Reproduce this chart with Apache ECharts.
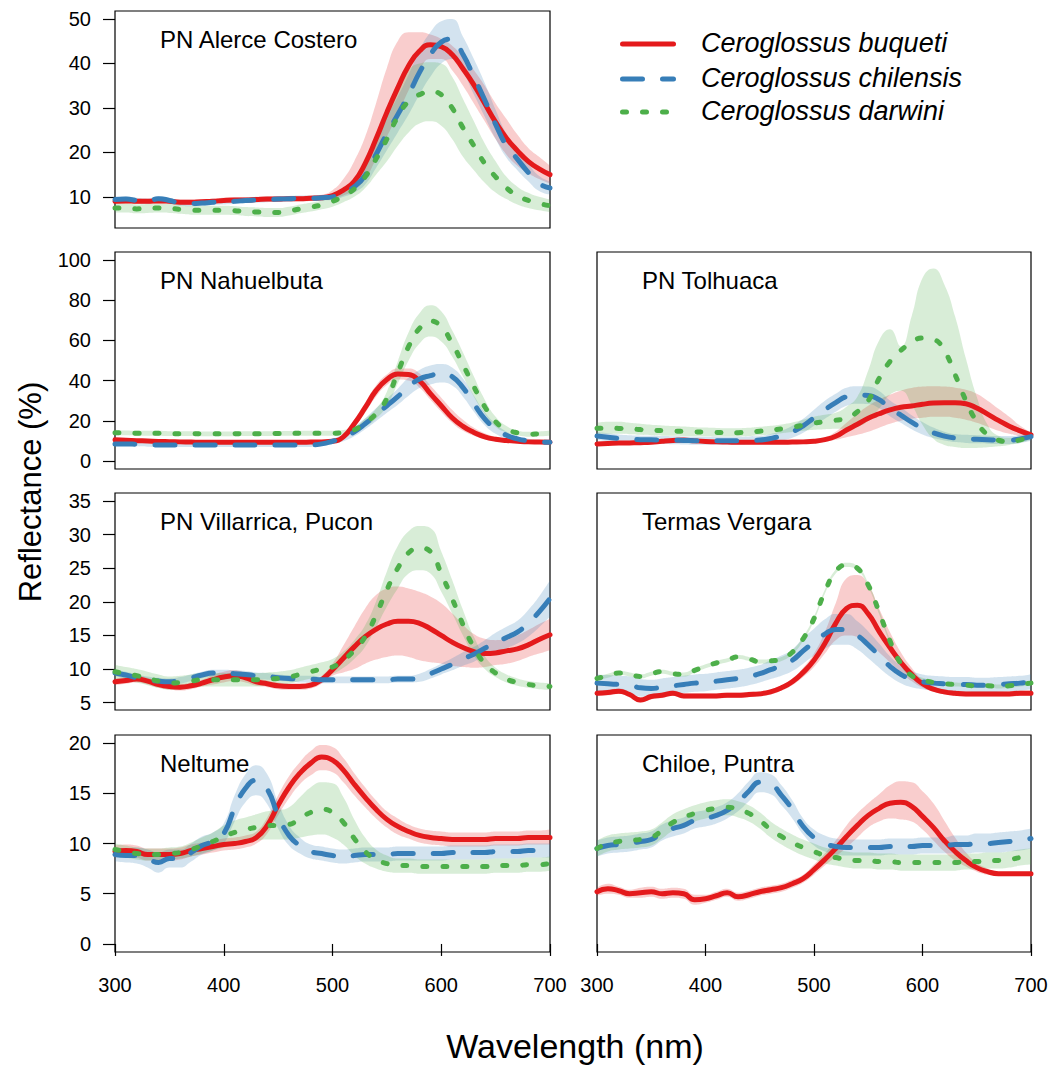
<!DOCTYPE html>
<html>
<head>
<meta charset="utf-8">
<title>Reflectance spectra of Ceroglossus</title>
<script src="https://cdn.jsdelivr.net/npm/echarts@6/dist/echarts.min.js"></script>
<style>
  html, body { margin: 0; padding: 0; background: #ffffff; }
  #chart { width: 1054px; height: 1068px; }
</style>
</head>
<body>
<div id="chart"></div>
<script>
// ---- wavelength grid (nm) ----
const wavelengths = [300,310,320,330,340,350,360,370,380,390,400,410,420,430,440,450,460,470,480,490,500,510,520,530,540,550,560,570,580,590,600,610,620,630,640,650,660,670,680,690,700];

// ---- tick labels ----
const ticksAlerce = [10,20,30,40,50];
const ticksRow2 = [0,20,40,60,80,100];
const ticksRow3 = [5,10,15,20,25,30,35];
const ticksRow4 = [0,5,10,15,20];

const speciesNames = ['Ceroglossus buqueti','Ceroglossus chilensis','Ceroglossus darwini'];
const siteNames = ['PN Alerce Costero','PN Nahuelbuta','PN Tolhuaca','PN Villarrica, Pucon','Termas Vergara','Neltume','Chiloe, Puntra'];

// ---- PN Alerce Costero ----
const acBuqMean = [9.0,9.1,9.0,9.0,9.1,9.0,8.8,8.8,8.9,9.0, 9.2,9.3,9.3,9.4,9.5,9.5,9.6,9.6,9.7,9.8, 10.3,11.5,13.5,17.5,23,29,34.5,39.5,42.8,44.2, 43.8,42,38.8,35.2,31,26.8,23.2,20.4,18,16.3, 15.0];
const acBuqLo = [8.4,8.5,8.4,8.4,8.5,8.4,8.2,8.2,8.3,8.4, 8.6,8.7,8.7,8.8,8.9,8.9,9.0,9.0,9.1,9.2, 9.5,10.3,11.5,14,18.5,23.5,28.5,34,38.5,41, 41,38.5,35,31,27,23,19.5,17,15.3,14, 13];
const acBuqHi = [9.6,9.7,9.6,9.6,9.7,9.6,9.4,9.4,9.5,9.6, 9.8,9.9,9.9,10,10.1,10.1,10.2,10.2,10.3,10.5, 11.5,14,18,23.5,31,39,45,47,47,46.5, 45.5,44,41.5,38.5,35,31,27.5,24,21,19, 17];
const acChiMean = [9.4,9.5,9.2,9.0,9.6,9.2,8.6,8.5,8.6,8.8, 8.9,9.0,9.2,9.3,9.4,9.5,9.6,9.7,9.7,9.8, 10.0,11.0,12.3,14.8,19.5,24.2,28.5,33,38,42, 44.8,45.5,42,37,31.8,26.3,21.5,18.5,15.5,13, 12.0];
const acChiLo = [8.8,8.9,8.6,8.4,9.0,8.6,8.0,7.9,8.0,8.2, 8.3,8.4,8.6,8.7,8.8,8.9,9.0,9.1,9.1,9.2, 9.3,10.0,11,12.8,16.5,20.5,24.5,28.5,33,37, 40,41,38,33,28,23,18.8,16,13.5,11.3, 10.5];
const acChiHi = [10,10.1,9.8,9.6,10.2,9.8,9.2,9.1,9.2,9.4, 9.5,9.6,9.8,9.9,10,10.1,10.2,10.3,10.3,10.4, 10.7,12,13.6,16.8,22.5,28,32.5,37.5,43,47, 49.5,50,46,41,35.6,29.6,24.2,21,17.5,14.7, 13.5];
const acDarMean = [7.5,7.5,7.3,7.4,7.5,7.4,7.2,7.0,7.0,7.0, 7.0,6.9,6.7,6.6,6.5,6.5,6.8,7.3,7.7,8.2, 9.0,10.2,11.8,14.5,18.5,23,28,31.5,33,33.7, 33,30,25.5,21.5,17.5,14.5,12,10.3,9.2,8.5, 8.0];
const acDarLo = [6.5,6.5,6.3,6.4,6.5,6.4,6.2,6.0,6.0,6.0, 6.0,5.9,5.7,5.6,5.5,5.5,5.8,6.3,6.7,7.2, 7.8,8.8,10,12,15,18,21.5,24.5,26.5,27, 26,23,19,16,13.2,11,9.5,8.3,7.5,7, 6.6];
const acDarHi = [8.5,8.5,8.3,8.4,8.5,8.4,8.2,8.0,8.0,8.0, 8.0,7.9,7.7,7.6,7.5,7.5,7.8,8.3,8.7,9.2, 10.2,11.6,13.6,17,22,28,34,38.5,40,40.3, 40,37,32,27,22,18,14.5,12.3,10.9,10, 9.4];

// ---- PN Nahuelbuta ----
const nbBuqMean = [10.5,10.3,10.1,9.9,9.7,9.6,9.5,9.4,9.3,9.3, 9.3,9.3,9.3,9.3,9.3,9.3,9.3,9.3,9.4,9.5, 9.8,12,18.5,26.5,35,40.5,43.3,43,39.8,33.5, 27.5,21.5,17.2,14.2,12,10.8,10.2,9.8,9.5,9.4, 9.3];
const nbBuqLo = [9.7,9.5,9.3,9.1,8.9,8.8,8.7,8.6,8.5,8.5, 8.5,8.5,8.5,8.5,8.5,8.5,8.5,8.5,8.6,8.7, 9.0,10.8,16.5,24,32,37.8,40.5,40,36.5,30.5, 24.5,19,15,12.5,10.8,9.8,9.2,8.9,8.6,8.5, 8.4];
const nbBuqHi = [11.3,11.1,10.9,10.7,10.5,10.4,10.3,10.2,10.1,10.1, 10.1,10.1,10.1,10.1,10.1,10.1,10.1,10.1,10.2,10.3, 10.6,13.2,20.5,29,37.5,43,46,46,43.5,37.5, 31.5,25.5,20.5,16.5,13.8,12,11,10.5,10.2,10.1, 10];
const nbChiMean = [8.5,8.5,8.3,8.1,8.0,8.0,8.0,8.0,8.0,8.0, 8.0,8.0,8.0,8.0,8.0,8.0,8.0,8.0,8.0,8.5, 9.8,11.5,14.5,18.5,23,27.5,32,37,40.8,42.5, 43.6,42,36.5,28.5,21,16,12.8,11,10,9.5, 9.3];
const nbChiLo = [7.5,7.5,7.3,7.1,7.0,7.0,7.0,7.0,7.0,7.0, 7.0,7.0,7.0,7.0,7.0,7.0,7.0,7.0,7.0,7.4, 8.5,9.8,12.3,15.8,19.8,24,28,32.5,36.3,38, 39,37.5,32,24.5,17.8,13.5,11,9.7,8.9,8.5, 8.3];
const nbChiHi = [9.5,9.5,9.3,9.1,9.0,9.0,9.0,9.0,9.0,9.0, 9.0,9.0,9.0,9.0,9.0,9.0,9.0,9.0,9.0,9.6, 11.1,13.2,16.7,21.2,26.2,31,36,41.5,45.3,47.5, 48.3,46.5,41,32.5,24.2,18.5,14.6,12.3,11.1,10.5, 10.3];
const nbDarMean = [14.0,14.0,13.8,13.8,13.8,13.6,13.6,13.6,13.5,13.5, 13.5,13.5,13.6,13.6,13.6,13.7,13.7,13.8,13.8,13.8, 13.8,14.2,15.5,19,23.5,31,44,57,66,69.6, 66.8,58.5,48,37,27,19.5,15.8,14,13.3,13.5, 13.8];
const nbDarLo = [12.8,12.8,12.6,12.6,12.6,12.4,12.4,12.4,12.3,12.3, 12.3,12.3,12.4,12.4,12.4,12.5,12.5,12.6,12.6,12.6, 12.6,13,14,17,21,27.5,38.5,50,58.5,62, 59.5,52,42,32,23.5,17,14.2,12.8,12.1,12.3, 12.6];
const nbDarHi = [15.2,15.2,15,15,15,14.8,14.8,14.8,14.7,14.7, 14.7,14.7,14.8,14.8,14.8,14.9,14.9,15,15,15, 15,15.4,17,21,26,34.5,49.5,64,73.5,77.5, 74.5,65,54,42,30.5,22,17.4,15.2,14.5,14.7, 15];

// ---- PN Tolhuaca ----
const thBuqMean = [8.5,8.7,8.9,9.0,9.1,9.3,9.8,10.2,10.4,10.0, 9.7,9.5,9.4,9.3,9.3,9.3,9.3,9.3,9.4,9.5, 9.8,10.6,12.3,15.4,18.3,21.3,23.5,25.4,26.7,27.4, 28.2,28.8,29,29,28.5,26.3,23.3,20.2,17.3,15, 13];
const thBuqLo = [7.8,8.0,8.2,8.3,8.4,8.6,9.1,9.5,9.7,9.3, 9.0,8.8,8.7,8.6,8.6,8.6,8.6,8.6,8.7,8.8, 9.1,9.6,10.5,11.8,13,14.5,16.5,18.5,20,21, 21.5,22,22,21.5,20.5,19,17,15,13.5,12.5, 11.8];
const thBuqHi = [9.2,9.4,9.6,9.7,9.8,10.0,10.5,10.9,11.1,10.7, 10.4,10.2,10.1,10.0,10.0,10.0,10.0,10.0,10.1,10.2, 10.5,11.8,14.5,19,23.5,27.5,30.5,33,35,36.3, 37,37.2,37,36.5,35.5,33.5,30,26,22,17.5, 14.2];
const thChiMean = [12.4,11.8,11.2,10.8,10.6,10.5,10.4,10.3,10.2,10.1, 10.1,10.1,10.1,10.1,10.2,10.4,11.2,12.5,14.5,17.5, 21.5,25.5,29,32,32.8,32.6,30.5,26.2,22.8,19.3, 16.3,14,12.4,11.4,11,10.8,10.6,10.4,10.4,11, 12.1];
const thChiLo = [10.4,9.8,9.2,8.8,8.6,8.5,8.4,8.3,8.2,8.1, 8.1,8.1,8.1,8.1,8.2,8.4,9,10,11.5,14, 17.5,21,24.5,27.5,28.5,28.3,26.2,22.3,19,15.8, 13.2,11.4,10.2,9.4,9,8.8,8.6,8.4,8.4,9, 10.1];
const thChiHi = [14.4,13.8,13.2,12.8,12.6,12.5,12.4,12.3,12.2,12.1, 12.1,12.1,12.1,12.1,12.2,12.4,13.4,15,17.5,21, 25.5,30,33.5,36.5,37.2,37,34.8,30.1,26.6,22.8, 19.4,16.6,14.6,13.4,13,12.8,12.6,12.4,12.4,13, 14.1];
const thDarMean = [16.3,16.3,16.2,16,15.6,15.3,15.1,14.9,14.7,14.5, 14.4,14.2,14.1,14.1,14.3,14.8,15.3,16,16.8,17.8, 18.8,19.6,20.3,21.2,24.5,30,41,49.5,55,59, 61.2,60.5,55,43,30,19.5,13,10.3,9.6,10.5, 12.1];
const thDarLo = [13.5,13.5,13.5,13.3,13,12.8,12.6,12.5,12.4,12.3, 12.3,12.2,12.2,12.2,12.4,12.8,13.2,13.8,14.4,15, 15.5,15.8,16,16.2,17,20,26,33,35,28, 18,11,8,7,6.5,6.5,6.8,7.3,8,9, 10.5];
const thDarHi = [19,19.5,19.5,19,18.5,18,17.7,17.4,17.1,16.8, 16.6,16.4,16.3,16.3,16.5,17,17.5,18.2,19.2,20.5, 22,23,24,27,32,45,60,65.5,57,72, 91,95.8,88,72,51,32,18,12.5,11.5,12.2, 13.7];

// ---- PN Villarrica, Pucon ----
const vrBuqMean = [8.1,8.3,8.5,8.2,7.7,7.4,7.3,7.5,7.9,8.4, 8.8,9.0,8.7,8.1,7.8,7.5,7.4,7.4,7.6,8.4, 9.9,11.6,13.3,14.8,15.9,16.7,17.1,17.1,16.8,16, 15,14,13.2,12.6,12.3,12.4,12.7,13,13.6,14.4, 15.1];
const vrBuqLo = [7.6,7.8,8.0,7.7,7.2,6.9,6.8,7.0,7.4,7.7, 8.0,8.2,8.0,7.5,7.3,7.0,6.9,6.9,7.1,7.8, 9,9.5,10,10.8,11.4,11.8,12,11.8,11.3,11, 10.8,10.5,10.3,10.2,10.3,10.6,10.8,11.2,11.8,12.3, 12.8];
const vrBuqHi = [8.6,8.8,9.0,8.7,8.2,7.9,7.8,8.0,8.4,9.1, 9.6,9.8,9.4,8.7,8.3,8.0,7.9,7.9,8.1,9.0, 10.8,13.5,16.3,19,21,22,22.3,22,21.5,20.8, 19.8,18.3,16.6,15.2,14.5,14.3,14.5,15,15.8,16.7, 17.5];
const vrChiMean = [9.4,9.1,8.7,8.4,8.2,8.1,8.3,8.7,9.1,9.4, 9.4,9.3,9.2,9.0,8.9,8.7,8.6,8.5,8.5,8.4, 8.4,8.4,8.4,8.4,8.4,8.4,8.5,8.5,8.7,9.3, 10,10.7,11.5,12.2,13.1,13.9,14.7,15.5,16.8,18.5, 20.5];
const vrChiLo = [8.9,8.6,8.2,7.9,7.7,7.6,7.8,8.2,8.6,8.9, 8.9,8.8,8.7,8.5,8.4,8.2,8.1,8.0,8.0,7.9, 7.9,7.9,7.9,7.9,7.9,7.9,8.0,8.0,8.1,8.6, 9.2,9.8,10.5,11.1,11.9,12.4,13.1,13.8,14.8,16.2, 17.8];
const vrChiHi = [9.9,9.6,9.2,8.9,8.7,8.6,8.8,9.2,9.6,9.9, 9.9,9.8,9.7,9.5,9.4,9.2,9.1,9.0,9.0,8.9, 8.9,8.9,8.9,8.9,8.9,8.9,9.0,9.0,9.3,10, 10.8,11.6,12.5,13.3,14.3,15.4,16.3,17.2,18.8,20.8, 23.2];
const vrDarMean = [9.6,9.3,9.0,8.6,8.2,7.9,8.0,8.2,8.4,8.4, 8.4,8.4,8.4,8.4,8.5,8.6,8.8,9.2,9.6,10, 10.3,11.3,12.8,14.8,18,21.8,25,27.3,28,27.5, 24.2,20.5,16.6,13.2,10.8,9.4,8.5,8.0,7.7,7.5, 7.4];
const vrDarLo = [8.6,8.3,8.0,7.6,7.2,6.9,7.0,7.2,7.4,7.4, 7.4,7.4,7.4,7.4,7.5,7.6,7.8,8.2,8.6,9.0, 9.3,10.2,11.5,13.3,16.2,19.3,22,24.2,24.7,24.2, 21.5,18.3,15,12,10,8.8,8,7.5,7.2,7, 6.9];
const vrDarHi = [10.6,10.3,10.0,9.6,9.2,8.9,9.0,9.2,9.4,9.4, 9.4,9.4,9.4,9.4,9.5,9.6,9.8,10.2,10.6,11.0, 11.5,12.6,14.3,16.5,20,24.5,28.3,30.5,31.3,31, 27.5,23.3,18.8,14.8,11.9,10.2,9.2,8.6,8.2,8.0, 7.9];

// ---- Termas Vergara ----
const tvBuqMean = [6.4,6.5,6.7,6.2,5.4,5.9,6.1,6.4,6.0,6.0, 6.0,6.0,6.1,6.1,6.2,6.3,6.6,7.2,8.1,9.5, 11.3,13.8,16.8,19,19.5,18.2,15.6,13.2,11,9.2, 7.8,7.0,6.6,6.4,6.3,6.3,6.3,6.3,6.3,6.4, 6.4];
const tvBuqLo = [6.0,6.1,6.3,5.8,5.0,5.5,5.7,6.0,5.6,5.6, 5.6,5.6,5.7,5.7,5.8,5.9,6.2,6.8,7.6,8.8, 10.3,12.3,14.3,15,14.8,14,12.5,11,9.5,8.2, 7.2,6.6,6.2,6.0,5.9,5.9,5.9,5.9,5.9,6.0, 6.0];
const tvBuqHi = [6.8,6.9,7.1,6.6,5.8,6.3,6.5,6.8,6.4,6.4, 6.4,6.4,6.5,6.5,6.6,6.7,7.0,7.6,8.6,10.2, 12.3,15.5,19.8,23.5,24,22.5,19,15.5,12.5,10.2, 8.4,7.4,7.0,6.8,6.7,6.7,6.7,6.7,6.7,6.8, 6.8];
const tvChiMean = [7.9,7.8,7.7,7.6,7.2,7.1,7.3,7.5,7.7,7.9, 8.0,8.2,8.4,8.6,8.9,9.3,9.9,10.5,11.3,12.7, 14.0,15.2,15.9,15.9,15.0,13.6,12.0,10.4,9.2,8.5, 8.1,7.9,7.8,7.7,7.7,7.6,7.6,7.7,7.8,7.9, 8.1];
const tvChiLo = [6.6,6.5,6.4,6.3,5.9,5.8,6.0,6.2,6.4,6.6, 6.7,6.9,7.1,7.3,7.6,8.0,8.5,9.0,9.7,10.8, 12,13,13.6,13.6,12.9,11.6,10.2,8.9,7.9,7.3, 7.0,6.8,6.7,6.6,6.6,6.5,6.5,6.6,6.7,6.8, 7.0];
const tvChiHi = [9.2,9.1,9.0,8.9,8.5,8.4,8.6,8.8,9.0,9.2, 9.3,9.5,9.7,9.9,10.2,10.6,11.3,12,12.9,14.6, 16,17.4,18.2,18.2,17.1,15.6,13.8,11.9,10.5,9.7, 9.2,9.0,8.9,8.8,8.8,8.7,8.7,8.8,8.9,9.0, 9.2];
const tvDarMean = [8.6,9.0,9.4,9.2,8.9,9.3,9.6,9.3,9.2,9.8, 10.4,10.9,11.3,11.8,11.5,11.1,11.2,11.5,12.5,14.5, 17.5,21.5,24.5,25.5,25,22.5,18.5,14.2,10.8,9.0, 8.4,8.0,7.8,7.7,7.6,7.5,7.5,7.4,7.5,7.7, 7.9];
const tvDarLo = [8.3,8.7,9.1,8.9,8.6,9.0,9.3,9.0,8.9,9.5, 10.1,10.6,11.0,11.5,11.2,10.8,10.9,11.2,12.2,14.2, 17.2,21.2,24.2,25.2,24.7,22.2,18.2,13.9,10.5,8.7, 8.1,7.7,7.5,7.4,7.3,7.2,7.2,7.1,7.2,7.4, 7.6];
const tvDarHi = [8.9,9.3,9.7,9.5,9.2,9.6,9.9,9.6,9.5,10.1, 10.7,11.2,11.6,12.1,11.8,11.4,11.5,11.8,12.8,14.8, 17.8,21.8,24.8,25.8,25.3,22.8,18.8,14.5,11.1,9.3, 8.7,8.3,8.1,8.0,7.9,7.8,7.8,7.7,7.8,8.0, 8.2];

// ---- Neltume ----
const ntBuqMean = [9.2,9.3,9.2,8.9,8.9,8.9,9.0,9.3,9.5,9.7, 9.9,10.0,10.2,10.6,11.8,13.8,15.6,17.0,18.0,18.6, 18.3,17.3,15.9,14.6,13.4,12.4,11.7,11.2,10.8,10.6, 10.5,10.4,10.4,10.4,10.4,10.5,10.5,10.5,10.6,10.6, 10.6];
const ntBuqLo = [8.6,8.7,8.6,8.3,8.3,8.3,8.4,8.7,8.9,9.1, 9.3,9.4,9.6,10,11,12.8,14.5,15.9,16.8,17.3, 17.1,16.1,14.8,13.6,12.5,11.6,10.9,10.5,10.1,9.9, 9.8,9.7,9.7,9.7,9.7,9.8,9.8,9.8,9.9,9.9, 9.9];
const ntBuqHi = [9.8,9.9,9.8,9.5,9.5,9.5,9.6,9.9,10.1,10.3, 10.5,10.6,10.8,11.2,12.6,14.8,16.7,18.1,19.2,19.8, 19.6,18.5,17,15.6,14.3,13.2,12.5,11.9,11.5,11.3, 11.2,11.1,11.1,11.1,11.1,11.2,11.2,11.2,11.3,11.3, 11.4];
const ntChiMean = [8.9,8.8,8.8,8.5,8.1,8.5,8.5,9.1,9.8,10.2, 11.0,13.5,15.5,16.3,15.4,12.8,10.8,9.8,9.2,9.0, 8.8,8.7,8.8,8.9,8.9,8.9,9.0,9.0,9.0,9.0, 9.0,9.1,9.1,9.1,9.1,9.2,9.2,9.2,9.3,9.3, 9.3];
const ntChiLo = [8.2,8.1,8.0,7.6,7.1,7.6,7.6,8.2,8.9,9.3, 10,12.2,14.1,14.8,13.9,11.5,9.8,9.0,8.5,8.3, 8.1,8.0,8.1,8.2,8.2,8.2,8.3,8.3,8.3,8.3, 8.3,8.4,8.4,8.4,8.4,8.5,8.5,8.5,8.6,8.6, 8.6];
const ntChiHi = [9.6,9.5,9.6,9.4,9.1,9.4,9.4,10,10.7,11.1, 12,14.8,16.9,17.8,16.9,14.1,11.8,10.6,9.9,9.7, 9.5,9.4,9.5,9.6,9.6,9.6,9.7,9.7,9.7,9.7, 9.7,9.8,9.8,9.8,9.8,9.9,9.9,9.9,10,10, 10];
const ntDarMean = [9.4,9.2,9.0,8.9,8.9,9.0,9.1,9.4,9.8,10.2, 10.7,11.1,11.4,11.6,11.8,11.8,11.9,12.5,13.1,13.4, 13.1,12.1,10.5,9.2,8.4,8.0,7.8,7.8,7.7,7.7, 7.7,7.7,7.7,7.7,7.7,7.8,7.8,7.8,7.9,7.9, 8.0];
const ntDarLo = [8.8,8.6,8.4,8.3,8.3,8.4,8.5,8.7,9.0,9.3, 9.6,9.9,10.2,10.3,10.4,10.4,10.4,10.6,10.8,10.9, 10.6,9.9,8.8,8.0,7.5,7.2,7.1,7.1,7.0,7.0, 7.0,7.0,7.0,7.0,7.0,7.1,7.1,7.1,7.2,7.2, 7.3];
const ntDarHi = [10,9.8,9.6,9.5,9.5,9.6,9.7,10.1,10.6,11.1, 11.8,12.3,12.6,12.9,13.2,13.3,13.6,14.6,15.6,16.1, 16.0,14.6,12.4,10.6,9.4,8.8,8.5,8.5,8.4,8.4, 8.4,8.4,8.4,8.4,8.4,8.5,8.5,8.5,8.6,8.6, 8.7];

// ---- Chiloe, Puntra ----
const chBuqMean = [5.2,5.5,5.3,5.0,5.1,5.2,5.0,5.1,5.0,4.4, 4.5,4.8,5.1,4.7,4.9,5.2,5.4,5.6,6.0,6.5, 7.4,8.4,9.5,10.7,11.8,12.8,13.5,14.0,14.1,13.7, 12.7,11.6,10.3,9.2,8.3,7.6,7.2,7.0,7.0,7.0, 7.0];
const chBuqLo = [4.8,5.0,4.9,4.6,4.6,4.7,4.5,4.6,4.5,3.9, 4.1,4.4,4.7,4.3,4.5,4.8,5.0,5.2,5.6,6.1, 6.9,7.8,8.7,9.6,10.6,11.6,12.2,12.5,12.4,12.2, 11.4,10.3,9.2,8.3,7.7,7.2,6.9,6.8,6.8,6.8, 6.8];
const chBuqHi = [5.6,6.0,5.7,5.4,5.6,5.7,5.5,5.6,5.5,4.9, 4.9,5.2,5.5,5.1,5.3,5.6,5.8,6.0,6.4,6.9, 7.9,9.0,10.3,11.8,13,14,14.9,15.8,16.2,16.1, 15.2,14,12.3,10.6,9.1,8.1,7.5,7.2,7.2,7.2, 7.2];
const chChiMean = [9.5,9.8,9.9,10.0,10.2,10.4,11.1,11.5,11.8,12.3, 12.5,12.8,13.3,14.1,15.2,16.1,15.9,14.8,13.4,11.7, 10.6,10.0,9.7,9.6,9.6,9.6,9.6,9.7,9.7,9.7, 9.8,9.8,9.8,9.9,9.9,10.0,10.0,10.1,10.2,10.3, 10.5];
const chChiLo = [8.7,9.0,9.1,9.2,9.4,9.6,10.3,10.7,11.0,11.5, 11.7,12.0,12.5,13.2,14.2,15.1,14.9,13.8,12.5,10.9, 9.8,9.2,8.9,8.8,8.8,8.8,8.8,8.9,8.9,8.9, 9.0,9.0,9.0,9.0,9.0,9.1,9.1,9.1,9.2,9.3, 9.5];
const chChiHi = [10.3,10.6,10.7,10.8,11,11.2,11.9,12.3,12.6,13.1, 13.3,13.6,14.1,15,16.2,17.1,16.9,15.8,14.3,12.5, 11.4,10.8,10.5,10.4,10.4,10.4,10.4,10.5,10.5,10.5, 10.6,10.6,10.6,10.8,10.8,11,11,11.1,11.2,11.3, 11.5];
const chDarMean = [9.5,10.0,10.2,10.3,10.4,10.6,11.3,12.1,12.6,13.0, 13.3,13.5,13.6,13.4,13.0,12.3,11.4,10.7,10.1,9.6, 9.2,8.8,8.6,8.4,8.3,8.3,8.2,8.2,8.1,8.1, 8.1,8.1,8.1,8.1,8.2,8.2,8.3,8.3,8.4,8.6, 8.7];
const chDarLo = [8.7,9.2,9.4,9.5,9.6,9.8,10.5,11.3,11.8,12.2, 12.5,12.7,12.8,12.6,12.2,11.5,10.6,9.9,9.3,8.8, 8.4,8.0,7.8,7.6,7.5,7.5,7.4,7.4,7.3,7.3, 7.3,7.3,7.3,7.3,7.4,7.4,7.5,7.5,7.6,7.8, 7.9];
const chDarHi = [10.3,10.8,11,11.1,11.2,11.4,12.1,12.9,13.4,13.8, 14.1,14.3,14.4,14.2,13.8,13.1,12.2,11.5,10.9,10.4, 10,9.6,9.4,9.2,9.1,9.1,9.0,9.0,8.9,8.9, 8.9,8.9,8.9,8.9,9.0,9.0,9.1,9.1,9.2,9.4, 9.5];

// ---- styling ----
const FONT = '"Liberation Sans", Arial, Helvetica, sans-serif';
const LINE_COLORS = ['#E41A1C', '#377EB8', '#4DAF4A'];
const BAND_COLORS = ['rgba(228,26,28,0.22)', 'rgba(55,126,184,0.22)', 'rgba(77,175,74,0.22)'];
const LINE_TYPES = ['solid', [20, 20], [4, 16]];
const LINE_WIDTH = 5;

// panel layout: column lefts/widths and row tops (px)
const COL_LEFT = [115, 597];
const COL_WIDTH = [435, 434];
const ROW_TOP = [11, 252, 493, 735];
const PANEL_H = 217;

const panels = [
  { title: siteNames[0], col: 0, row: 0, yMin: 3.0,  yMax: 51.8, ticks: ticksAlerce,
    spectra: [[acBuqMean, acBuqLo, acBuqHi], [acChiMean, acChiLo, acChiHi], [acDarMean, acDarLo, acDarHi]] },
  { title: siteNames[1], col: 0, row: 1, yMin: -4,   yMax: 104,  ticks: ticksRow2,
    spectra: [[nbBuqMean, nbBuqLo, nbBuqHi], [nbChiMean, nbChiLo, nbChiHi], [nbDarMean, nbDarLo, nbDarHi]] },
  { title: siteNames[2], col: 1, row: 1, yMin: -4,   yMax: 104,  ticks: ticksRow2,
    spectra: [[thBuqMean, thBuqLo, thBuqHi], [thChiMean, thChiLo, thChiHi], [thDarMean, thDarLo, thDarHi]] },
  { title: siteNames[3], col: 0, row: 2, yMin: 3.9,  yMax: 36.2, ticks: ticksRow3,
    spectra: [[vrBuqMean, vrBuqLo, vrBuqHi], [vrChiMean, vrChiLo, vrChiHi], [vrDarMean, vrDarLo, vrDarHi]] },
  { title: siteNames[4], col: 1, row: 2, yMin: 3.9,  yMax: 36.2, ticks: ticksRow3,
    spectra: [[tvBuqMean, tvBuqLo, tvBuqHi], [tvChiMean, tvChiLo, tvChiHi], [tvDarMean, tvDarLo, tvDarHi]] },
  { title: siteNames[5], col: 0, row: 3, yMin: -0.8, yMax: 20.8, ticks: ticksRow4,
    spectra: [[ntBuqMean, ntBuqLo, ntBuqHi], [ntChiMean, ntChiLo, ntChiHi], [ntDarMean, ntDarLo, ntDarHi]] },
  { title: siteNames[6], col: 1, row: 3, yMin: -0.8, yMax: 20.8, ticks: ticksRow4,
    spectra: [[chBuqMean, chBuqLo, chBuqHi], [chChiMean, chChiLo, chChiHi], [chDarMean, chDarLo, chDarHi]] }
];

const grids = [], xAxes = [], yAxes = [], titles = [], bandSeries = [], lineSeries = [];
const tickLabelStyle = { color: '#000', fontSize: 20, fontFamily: FONT };

panels.forEach((p, i) => {
  const bottomRow = p.row === 3;
  const leftCol = p.col === 0;
  grids.push({
    left: COL_LEFT[p.col], top: ROW_TOP[p.row], width: COL_WIDTH[p.col], height: PANEL_H,
    show: true, borderColor: '#000', borderWidth: 1.2, backgroundColor: 'transparent',
    containLabel: false
  });
  xAxes.push({
    gridIndex: i, type: 'category', data: wavelengths, boundaryGap: false,
    axisLine: { show: false }, splitLine: { show: false },
    axisTick: { show: bottomRow, interval: 9, length: 12, lineStyle: { color: '#000', width: 1.2 } },
    axisLabel: Object.assign({ show: bottomRow, interval: 9, margin: 23 }, tickLabelStyle)
  });
  yAxes.push({
    gridIndex: i, type: 'value', min: p.yMin, max: p.yMax,
    axisLine: { show: false }, splitLine: { show: false },
    axisTick: { show: leftCol, customValues: p.ticks, length: 12, lineStyle: { color: '#000', width: 1.2 } },
    axisLabel: Object.assign({ show: leftCol, customValues: p.ticks, margin: 24 }, tickLabelStyle)
  });
  titles.push({
    text: p.title, left: COL_LEFT[p.col] + 45, top: ROW_TOP[p.row] + 16, padding: 0,
    textStyle: { fontSize: 24, fontWeight: 'normal', color: '#000', fontFamily: FONT }
  });
  p.spectra.forEach((s, k) => {
    const [mean, lo, hi] = s;
    const stack = 'band-' + i + '-' + k;
    bandSeries.push({
      type: 'line', name: speciesNames[k] + ' lower', xAxisIndex: i, yAxisIndex: i, stack,
      data: lo, symbol: 'none', smooth: true, silent: true, z: 1,
      lineStyle: { width: 0, opacity: 0 }
    });
    bandSeries.push({
      type: 'line', name: speciesNames[k] + ' range', xAxisIndex: i, yAxisIndex: i, stack,
      data: hi.map((v, j) => v - lo[j]), symbol: 'none', smooth: true, silent: true, z: 1,
      lineStyle: { width: 0, opacity: 0 },
      areaStyle: { color: BAND_COLORS[k], opacity: 1 }
    });
    lineSeries.push({
      type: 'line', name: speciesNames[k], xAxisIndex: i, yAxisIndex: i,
      data: mean, symbol: 'none', showSymbol: false, smooth: true, silent: true, z: 3,
      lineStyle: { color: LINE_COLORS[k], width: LINE_WIDTH, type: LINE_TYPES[k], cap: 'round', join: 'round' }
    });
  });
});

// legend block in the empty top-right cell
const legendGraphics = [];
const legendRowsY = [44, 79, 112];
speciesNames.forEach((name, k) => {
  legendGraphics.push({
    type: 'line', shape: { x1: 622.5, y1: legendRowsY[k], x2: 673.5, y2: legendRowsY[k] },
    style: { stroke: LINE_COLORS[k], lineWidth: LINE_WIDTH, lineCap: 'round',
             lineDash: LINE_TYPES[k] === 'solid' ? null : LINE_TYPES[k] }
  });
  legendGraphics.push({
    type: 'text', x: 701, y: legendRowsY[k] - 1,
    style: { text: name, fill: '#000', fontSize: 27, fontStyle: 'italic', fontFamily: FONT,
             textAlign: 'left', textVerticalAlign: 'middle' }
  });
});

// shared axis titles
const axisTitles = [
  { type: 'text', x: 575, y: 1046,
    style: { text: 'Wavelength (nm)', fill: '#000', fontSize: 34, fontFamily: FONT,
             textAlign: 'center', textVerticalAlign: 'middle' } },
  { type: 'text', x: 30, y: 492, rotation: Math.PI / 2,
    style: { text: 'Reflectance (%)', fill: '#000', fontSize: 31, fontFamily: FONT,
             textAlign: 'center', textVerticalAlign: 'middle' } }
];

const chart = echarts.init(document.getElementById('chart'), null, { renderer: 'svg' });
chart.setOption({
  animation: false,
  backgroundColor: '#ffffff',
  title: titles,
  grid: grids,
  xAxis: xAxes,
  yAxis: yAxes,
  tooltip: { show: false },
  series: bandSeries.concat(lineSeries),
  graphic: legendGraphics.concat(axisTitles)
});
</script>
</body>
</html>
